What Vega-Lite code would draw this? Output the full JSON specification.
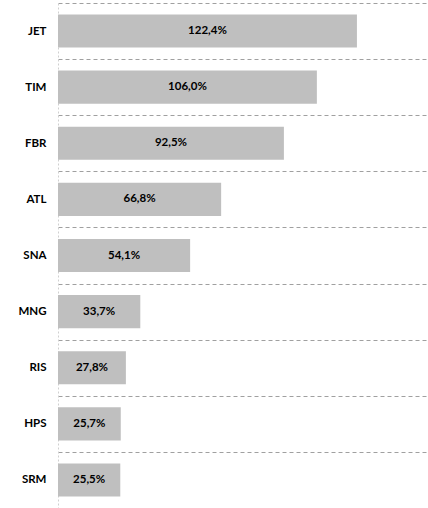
{
  "$schema": "https://vega.github.io/schema/vega-lite/v6.json",
  "width": 370,
  "height": 505,
  "autosize": {"type": "none"},
  "padding": {"left": 58, "top": 3, "right": 0, "bottom": 0},
  "background": "white",
  "config": {"view": {"stroke": null}},
  "data": {
    "values": [
      {"name": "JET", "value": 122.4, "label": "122,4%"},
      {"name": "TIM", "value": 106.0, "label": "106,0%"},
      {"name": "FBR", "value": 92.5, "label": "92,5%"},
      {"name": "ATL", "value": 66.8, "label": "66,8%"},
      {"name": "SNA", "value": 54.1, "label": "54,1%"},
      {"name": "MNG", "value": 33.7, "label": "33,7%"},
      {"name": "RIS", "value": 27.8, "label": "27,8%"},
      {"name": "HPS", "value": 25.7, "label": "25,7%"},
      {"name": "SRM", "value": 25.5, "label": "25,5%"}
    ]
  },
  "encoding": {
    "y": {
      "field": "name",
      "type": "nominal",
      "sort": null,
      "scale": {"paddingInner": 0, "paddingOuter": 0},
      "axis": {
        "title": null,
        "tickBand": "extent",
        "ticks": false,
        "labelPadding": 12,
        "labelFont": "Lato",
        "labelFontWeight": "bold",
        "labelFontSize": 11.5,
        "labelColor": "#000000",
        "labelBound": false,
        "grid": true,
        "gridColor": "#A0A0A0",
        "gridDash": [4, 3],
        "gridWidth": 1,
        "domain": true,
        "domainColor": "#D0D0D0",
        "domainDash": [2, 2]
      }
    }
  },
  "layer": [
    {
      "mark": {"type": "bar", "color": "#BFBFBF", "height": {"band": 0.59}},
      "encoding": {
        "x": {
          "field": "value",
          "type": "quantitative",
          "scale": {"domain": [0, 151.5], "nice": false},
          "axis": null
        }
      }
    },
    {
      "transform": [{"calculate": "datum.value / 2", "as": "mid"}],
      "mark": {"type": "text", "font": "Lato", "fontWeight": "bold", "fontSize": 11.5, "color": "#000000", "align": "center", "baseline": "middle"},
      "encoding": {
        "x": {"field": "mid", "type": "quantitative", "scale": {"domain": [0, 151.5], "nice": false}},
        "text": {"field": "label"}
      }
    }
  ]
}
